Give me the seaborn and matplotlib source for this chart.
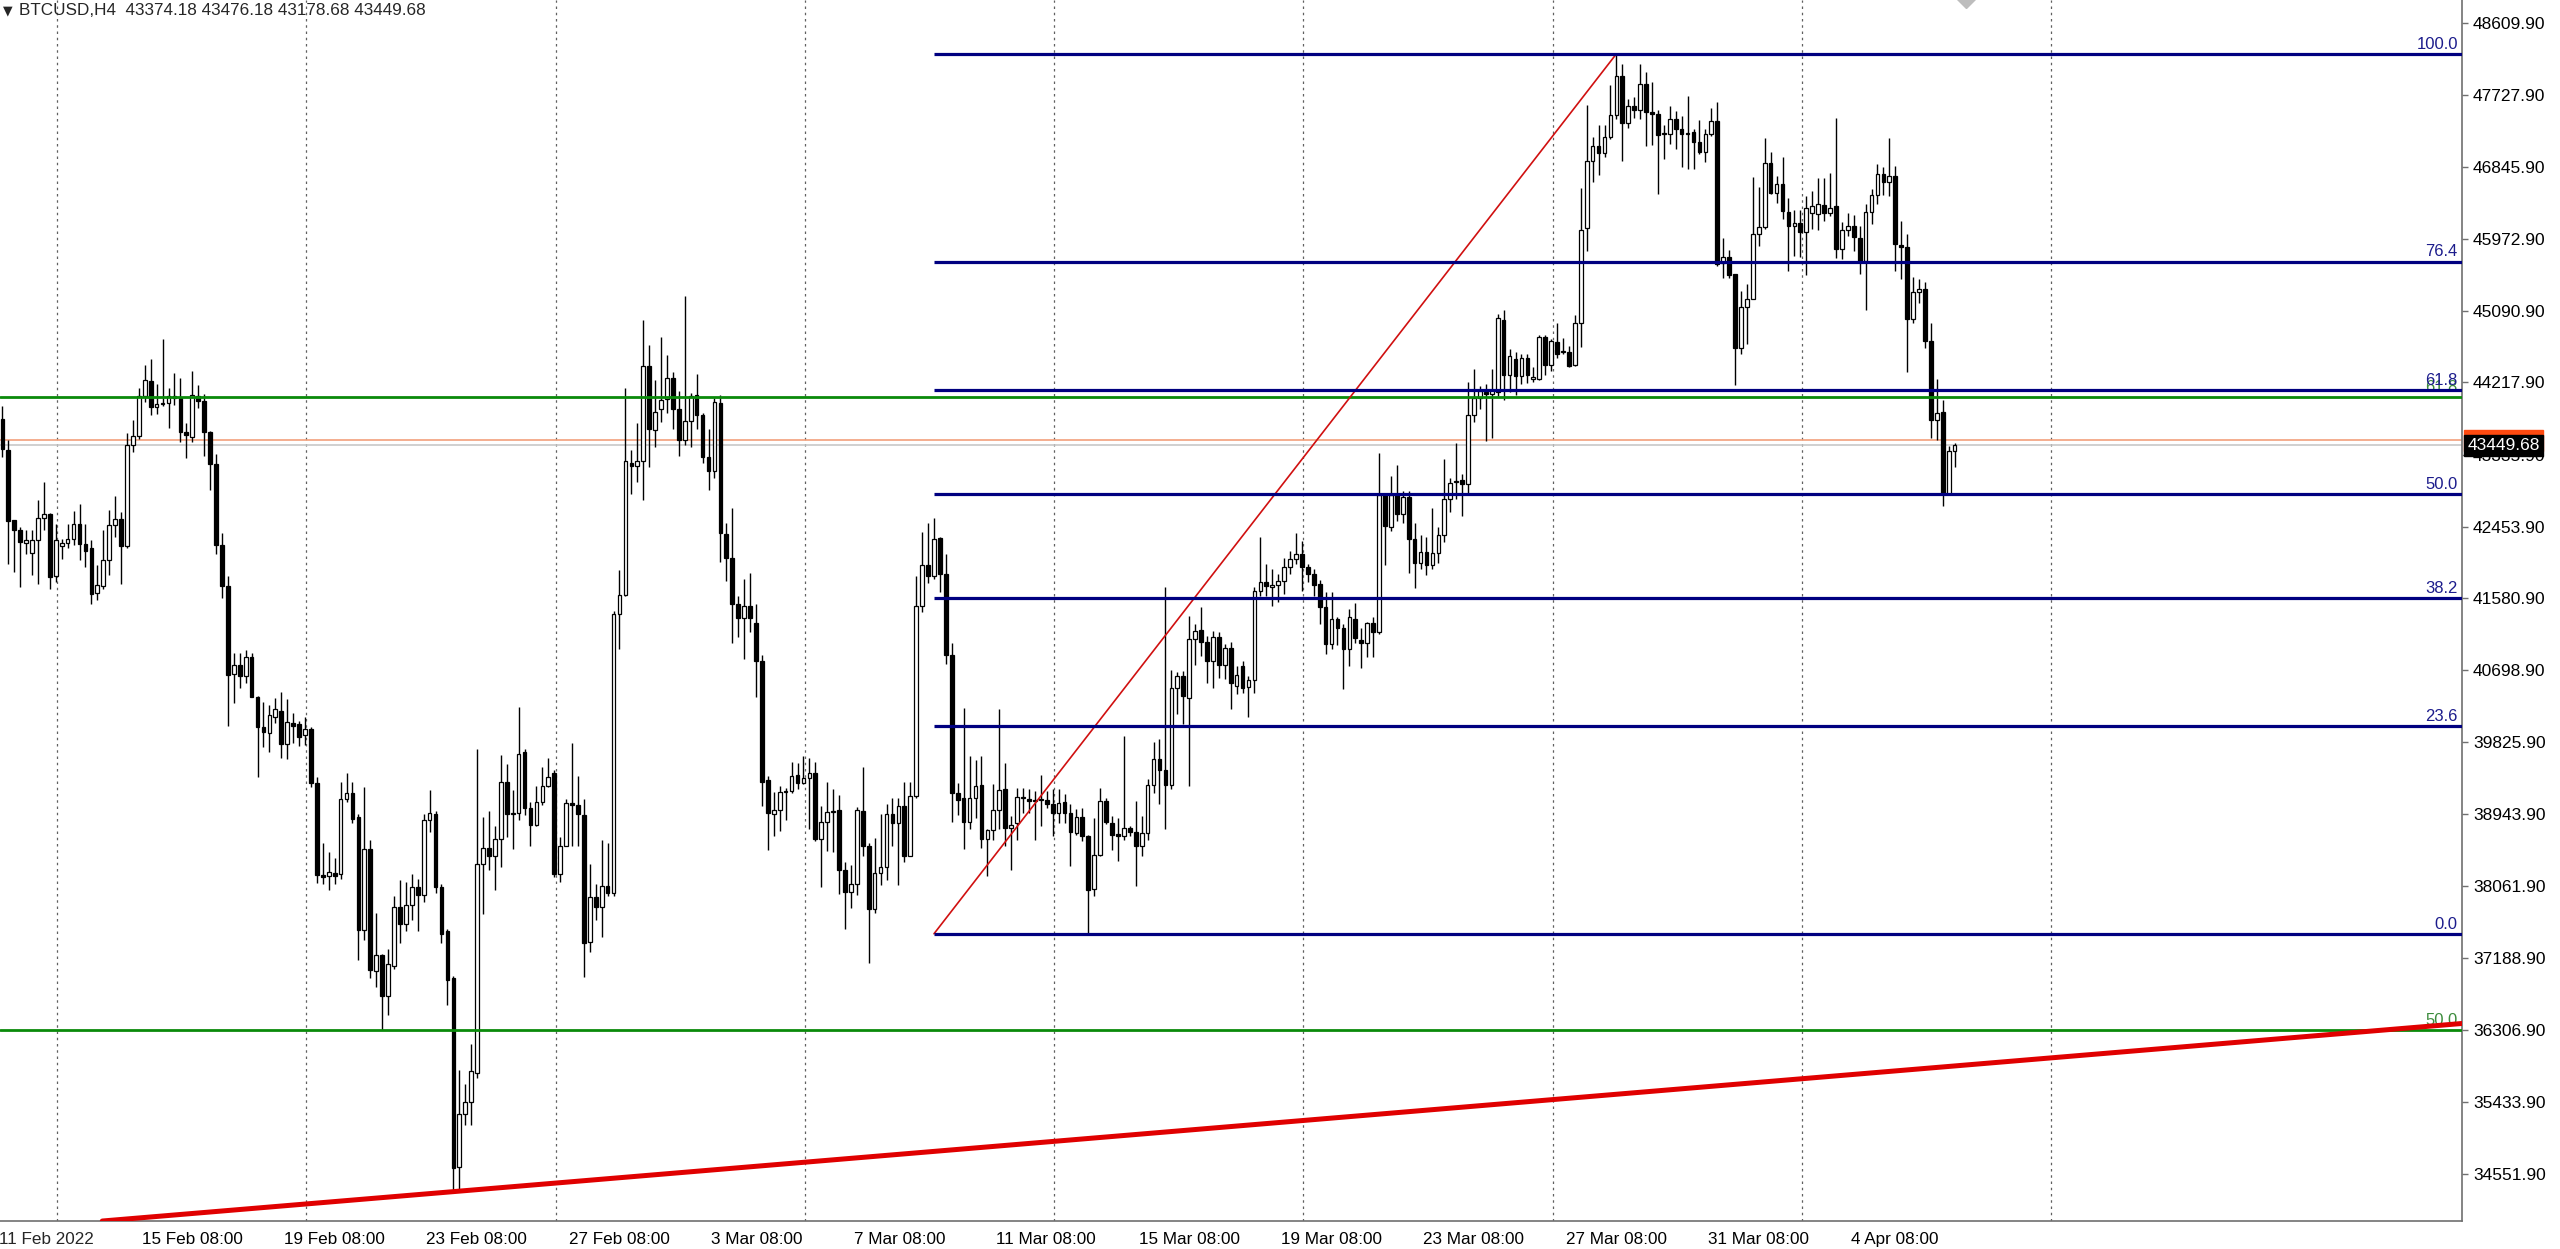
import numpy as np
import pandas as pd
import matplotlib
matplotlib.use("Agg")
import matplotlib.pyplot as plt
import matplotlib.transforms as mtransforms
import seaborn as sns

# BTCUSD H4 candles, 11 Feb 12:00 -> 7 Apr 2022
opens = [
    43776, 43389, 42534, 42420, 42262, 42140, 42290, 42567, 42608, 41851,
    42221, 42258, 42303, 42485, 42250, 42197, 41647, 41729, 42054, 42473,
    42555, 42217, 43450, 43560, 44052, 44235, 43918, 43950, 43967, 44048,
    44028, 43613, 43552, 44052, 43991, 43613, 43218, 42229, 41729, 40662,
    40764, 40630, 40858, 40378, 40003, 39939, 40134, 40207, 39800, 40060,
    40044, 39910, 39979, 39328, 38200, 38193, 38229, 38214, 39126, 39198,
    38911, 37525, 38516, 37022, 37224, 36721, 37094, 37813, 37597, 37834,
    38050, 37956, 38875, 38947, 38050, 37511, 36937, 34640, 35285, 35428,
    35788, 38337, 38530, 38430, 38645, 39342, 38947, 38961, 39700, 39018,
    38817, 39090, 39291, 39449, 38214, 38552, 39076, 39054, 38932, 37382,
    37927, 37812, 38071, 37978, 41387, 41617, 43239, 43196, 43253, 44416,
    43634, 43895, 44016, 44267, 43896, 43514, 43743, 44060, 43814, 43306,
    43132, 43961, 42367, 42067, 41505, 41341, 41483, 41276, 40812, 39366,
    38950, 38994, 39213, 39229, 39420, 39322, 39387, 39448, 38645, 38847,
    38972, 38994, 38263, 37990, 38088, 38983, 38558, 37783, 38230, 38302,
    38940, 38831, 39049, 38438, 39164, 41483, 41986, 41849, 42313, 41876,
    40894, 39202, 39147, 38847, 39147, 39295, 38643, 38749, 38993, 39246,
    38777, 38830, 39144, 39132, 39103, 39116, 39116, 39062, 38952, 39091,
    38961, 38716, 38912, 38683, 38026, 38439, 39104, 38830, 38704, 38675,
    38777, 38724, 38561, 38708, 39295, 39622, 39483, 39295, 40490, 40633,
    40368, 41082, 41196, 41041, 40817, 41103, 40764, 40968, 40511, 40756,
    40503, 40584, 41674, 41776, 41715, 41743, 41796, 41959, 42061, 42122,
    41959, 41878, 41759, 41476, 41023, 41332, 41219, 40962, 41332, 41075,
    41039, 41281, 41168, 42839, 42453, 42839, 42607, 42813, 42299, 42016,
    42145, 41990, 42135, 42350, 42788, 43000, 43029, 42978, 43816, 44022,
    44099, 44074, 44099, 44984, 44305, 44501, 44295, 44521, 44264, 44254,
    44768, 44434, 44717, 44588, 44588, 44434, 44948, 46105, 46918, 47109,
    47021, 47211, 47484, 47957, 47392, 47597, 47550, 47864, 47517, 47492,
    47248, 47248, 47435, 47313, 47248, 47280, 47158, 47027, 47252, 47415,
    45673, 45755, 45538, 44641, 45142, 45240, 46027, 46121, 46896, 46529,
    46639, 46301, 46130, 46170, 46056, 46293, 46272, 46383, 46293, 46374,
    45852, 46081, 46130, 45987, 45701, 46301, 46505, 46762, 46660, 46742,
    45893, 45877, 44996, 45322, 45355, 44722, 43763, 43853, 42857, 43374.18,
]
highs = [
    43926, 43511, 42540, 42453, 42412, 42420, 42779, 43002, 42620, 42494,
    42311, 42485, 42648, 42738, 42485, 42290, 41985, 42412, 42665, 42827,
    42636, 43600, 43755, 44154, 44427, 44508, 44203, 44752, 44154, 44333,
    44276, 43723, 44357, 44183, 44081, 43620, 43340, 42380, 41851, 40907,
    40907, 40948, 40907, 40390, 40317, 40276, 40357, 40439, 40345, 40175,
    40085, 40134, 40010, 39400, 38588, 38480, 38408, 39342, 39449, 39342,
    38947, 39270, 38624, 37741, 37230, 37296, 37942, 38136, 38114, 38208,
    38157, 38947, 39234, 38983, 38086, 37547, 36966, 35824, 35644, 36141,
    39736, 38911, 38983, 38803, 39664, 39557, 39234, 40253, 39736, 39090,
    39291, 39521, 39628, 39485, 38660, 39126, 39808, 39413, 39126, 38337,
    38086, 38624, 38588, 41423, 41925, 44151, 43397, 43720, 44976, 44675,
    44250, 44769, 44551, 44343, 44114, 45271, 44087, 44321, 43841, 43650,
    44032, 44070, 42504, 42684, 41603, 41822, 41887, 41505, 40883, 39409,
    39213, 39284, 39267, 39584, 39573, 39649, 39627, 39584, 39038, 39338,
    39256, 39175, 38356, 38328, 39027, 39518, 38590, 38656, 38940, 39065,
    39147, 39136, 39338, 39338, 41849, 42395, 42504, 42558, 42324, 42122,
    41030, 39322, 40239, 39649, 39611, 39649, 38760, 39307, 40233, 39565,
    38920, 39267, 39267, 39255, 39226, 39418, 39226, 39247, 39247, 39185,
    39063, 39001, 39022, 38690, 38899, 39267, 39144, 38920, 38899, 39899,
    38797, 39104, 38920, 39368, 39826, 39858, 41714, 40707, 40682, 40694,
    41368, 41266, 41470, 41123, 41184, 41164, 41021, 41050, 40756, 40817,
    40633, 41714, 42327, 42000, 41939, 41878, 42069, 42163, 42380, 42286,
    42000, 41939, 41810, 41656, 41656, 41347, 41270, 41450, 41527, 41219,
    41296, 41347, 43354, 42865, 43071, 43214, 42890, 42890, 42505, 42350,
    42325, 42685, 42453, 43286, 43045, 43472, 43096, 44228, 44382, 44176,
    44202, 44382, 45051, 45102, 44624, 44588, 44562, 44562, 44408, 44794,
    44794, 44742, 44948, 44758, 44665, 45036, 46594, 47607, 47211, 47366,
    47366, 47854, 48231, 48111, 47674, 47700, 48109, 48015, 47892, 47550,
    47362, 47599, 47537, 47468, 47713, 47313, 47427, 47313, 47566, 47648,
    45987, 45836, 45538, 45334, 45416, 46721, 46599, 47199, 47027, 46742,
    46966, 46476, 46326, 46326, 46497, 46558, 46709, 46709, 46774, 47442,
    46179, 46293, 46260, 46130, 46395, 46578, 46885, 46844, 47199, 46864,
    46191, 46028, 45510, 45485, 45444, 44947, 44261, 44000, 43443, 43476.18,
]
lows = [
    43308, 42005, 41904, 41721, 42127, 41863, 41761, 42412, 41700, 41782,
    42066, 42189, 42229, 42046, 41965, 41509, 41566, 41700, 41863, 42331,
    41761, 42200, 43369, 43531, 43979, 43816, 43837, 43926, 43666, 43938,
    43491, 43300, 43491, 43910, 43316, 42909, 42127, 41590, 40020, 40297,
    40480, 40541, 40370, 39401, 39767, 39707, 40052, 39625, 39613, 39808,
    39776, 39788, 39280, 38100, 38086, 38013, 38086, 38157, 39090, 38839,
    37166, 37403, 36937, 36829, 36306, 36491, 37050, 37367, 37511, 37654,
    37511, 37870, 38732, 37978, 37367, 36614, 34350, 34348, 35143, 35143,
    35716, 37727, 38265, 38014, 38301, 38660, 38516, 38875, 38932, 38552,
    38803, 39054, 39270, 38172, 38121, 38552, 38552, 38552, 36951, 37260,
    37654, 37439, 37942, 37942, 40956, 41603, 42859, 43002, 42787, 43182,
    43432, 43732, 43841, 43650, 43323, 43459, 43432, 43650, 43230, 42902,
    43050, 42029, 41794, 41030, 41112, 40839, 41167, 40375, 39038, 38503,
    38683, 38738, 38874, 39202, 39256, 39311, 38765, 38612, 38056, 38492,
    38481, 37974, 37537, 37794, 37958, 38438, 37129, 37739, 38083, 38138,
    38558, 38083, 38356, 38438, 39147, 41412, 41767, 41811, 41658, 40774,
    38847, 38929, 38520, 38765, 38902, 38536, 38186, 38626, 38765, 38553,
    38267, 38626, 38961, 38961, 38634, 38797, 39022, 38675, 38838, 38838,
    38308, 38695, 38614, 37483, 37940, 38430, 38818, 38512, 38369, 38634,
    38675, 38063, 38430, 38634, 39205, 39063, 38765, 39246, 40164, 40042,
    39287, 40764, 40878, 40543, 40490, 40613, 40592, 40225, 40409, 40429,
    40136, 40429, 41613, 41613, 41490, 41531, 41633, 41878, 42000, 41674,
    41776, 41613, 41270, 40900, 40962, 41013, 40473, 40756, 41039, 40730,
    40859, 40869, 41142, 41990, 42402, 42530, 42505, 41887, 41707, 41939,
    41862, 41939, 42016, 42273, 42633, 42788, 42582, 42865, 43739, 43894,
    43508, 43534, 44048, 43997, 44099, 44058, 44202, 44212, 44228, 44243,
    44305, 44357, 44521, 44562, 44408, 44418, 44655, 45823, 46671, 46748,
    46969, 47196, 47432, 46918, 47330, 47443, 47435, 47109, 47117, 46517,
    46946, 47129, 47068, 46844, 46823, 46823, 47007, 46905, 47223, 45640,
    45497, 45497, 44192, 44559, 44682, 45232, 45885, 46097, 46517, 46407,
    46211, 45579, 45763, 45755, 45526, 46089, 46081, 46191, 46252, 45742,
    45722, 46007, 45824, 45538, 45102, 46150, 46395, 46505, 46497, 45579,
    45477, 44342, 44947, 45192, 44641, 43539, 43519, 42703, 42850, 43178.68,
]
closes = [
    43409, 42526, 42420, 42270, 42290, 42290, 42567, 42616, 41843, 42290,
    42258, 42303, 42485, 42250, 42160, 41639, 41741, 42054, 42473, 42555,
    42217, 43450, 43560, 44052, 44243, 43918, 43950, 43959, 44048, 44028,
    43613, 43572, 44060, 43991, 43613, 43218, 42229, 41729, 40642, 40764,
    40630, 40866, 40378, 40003, 39951, 40154, 40223, 39800, 40073, 40020,
    39881, 39979, 39328, 38200, 38172, 38243, 38193, 39126, 39198, 38889,
    37525, 38516, 37044, 37224, 36721, 37116, 37813, 37597, 37834, 38050,
    37956, 38875, 38961, 38050, 37475, 36922, 34626, 35285, 35428, 35803,
    38337, 38530, 38430, 38645, 39342, 38947, 38961, 39679, 39018, 38817,
    39090, 39291, 39392, 38214, 38552, 39076, 39054, 38947, 37368, 37927,
    37812, 38071, 37978, 41387, 41617, 43253, 43196, 43253, 44416, 43648,
    43852, 44004, 44267, 43896, 43514, 43743, 44049, 43814, 43306, 43132,
    43978, 42378, 42067, 41505, 41341, 41483, 41341, 40812, 39338, 38956,
    38994, 39213, 39213, 39409, 39322, 39387, 39442, 38645, 38847, 38972,
    38972, 38263, 37990, 38088, 38994, 38558, 37783, 38230, 38302, 38940,
    38831, 39049, 38438, 39164, 41483, 41986, 41849, 42302, 41876, 40894,
    39202, 39120, 38847, 39147, 39284, 38643, 38749, 38993, 39238, 38777,
    38806, 39157, 39144, 39103, 39116, 39116, 39062, 38952, 39083, 38961,
    38724, 38912, 38683, 38022, 38447, 39104, 38847, 38695, 38675, 38777,
    38724, 38561, 38708, 39295, 39622, 39483, 39295, 40490, 40633, 40388,
    41082, 41184, 41041, 40817, 41103, 40764, 40968, 40544, 40642, 40490,
    40584, 41674, 41784, 41727, 41743, 41796, 41959, 42061, 42122, 41959,
    41878, 41743, 41476, 41023, 41332, 41219, 40962, 41347, 41090, 41039,
    41281, 41168, 42839, 42463, 42839, 42607, 42813, 42299, 42016, 42145,
    41990, 42130, 42350, 42788, 42994, 43019, 42978, 43816, 44022, 44110,
    44074, 44125, 45000, 44305, 44537, 44295, 44511, 44305, 44264, 44768,
    44434, 44727, 44562, 44588, 44418, 44948, 46080, 46918, 47109, 47021,
    47211, 47484, 47957, 47392, 47597, 47546, 47864, 47525, 47492, 47240,
    47248, 47435, 47313, 47248, 47265, 47158, 47027, 47252, 47415, 45661,
    45755, 45526, 44641, 45142, 45240, 46027, 46121, 46896, 46529, 46639,
    46313, 46130, 46170, 46056, 46354, 46374, 46395, 46293, 46354, 45852,
    46081, 46130, 46000, 45701, 46301, 46505, 46762, 46660, 46742, 45905,
    45877, 44996, 45322, 45355, 44722, 43763, 43845, 42857, 43376, 43449.68,
]

date_labels = ["15 Feb 08:00", "19 Feb 08:00", "23 Feb 08:00", "27 Feb 08:00",
               "3 Mar 08:00", "7 Mar 08:00", "11 Mar 08:00", "15 Mar 08:00",
               "19 Mar 08:00", "23 Mar 08:00", "27 Mar 08:00", "31 Mar 08:00",
               "4 Apr 08:00"]
price_ticks = [48609.90, 47727.90, 46845.90, 45972.90, 45090.90, 44217.90,
               43335.90, 42453.90, 41580.90, 40698.90, 39825.90, 38943.90,
               38061.90, 37188.90, 36306.90, 35433.90, 34551.90]

# objects on the chart
fib_low, fib_high = 37483, 48231
fib_levels = [0.0, 23.6, 38.2, 50.0, 61.8, 76.4, 100.0]
fib_start, fib_end = 157, 272
green_levels = [44043, 36307]
green_labels = ["61.8", "50.0"]
trend_a = (76, 34333)
trend_b = (414, 36384)
bid, ask = 43449.68, 43512.0

df = pd.DataFrame({"open": opens, "high": highs, "low": lows, "close": closes})
df["i"] = np.arange(len(df))
up = df["close"] >= df["open"]

sns.set_style("white")
plt.rcParams["font.family"] = ["Liberation Sans", "DejaVu Sans"]

fig = plt.figure(figsize=(25.6, 12.49), dpi=100)
ax = fig.add_axes([0, 0.0224, 0.9617, 0.9776])
ax.set_xlim(-0.4, 414.5)
ax.set_ylim(33974, 48889)

# vertical dotted grid
for gx in np.arange(9.24, 350, 42):
    ax.axvline(gx, color="#606060", lw=0.9, ls=(0, (2, 3)), zorder=1)

# bid / ask lines
ax.axhline(ask, color="#F2A07B", lw=1.2, zorder=1.5)
ax.axhline(bid, color="#C8C8C8", lw=1.2, zorder=1.5)

# candles
ax.vlines(df["i"], df["low"], df["high"], color="black", lw=1.0, zorder=3)
body_h = (df["close"] - df["open"]).abs().clip(lower=14)
body_b = df[["open", "close"]].min(axis=1)
ax.bar(df["i"][up], body_h[up], bottom=body_b[up], width=0.62,
       facecolor="white", edgecolor="black", lw=0.9, zorder=4)
ax.bar(df["i"][~up], body_h[~up], bottom=body_b[~up], width=0.62,
       facecolor="black", edgecolor="black", lw=0.9, zorder=4)

# green levels
for lvl, lab in zip(green_levels, green_labels):
    ax.axhline(lvl, color="#0A8A0A", lw=2.0, zorder=5)
    ax.text(413.8, lvl + 25, lab, color="#3C8C3C", fontsize=12,
            ha="right", va="bottom", zorder=5)

# fibonacci retracement
ax.plot([fib_start, fib_end], [fib_low, fib_high], color="#D01010", lw=1.2, zorder=6)
for lv in fib_levels:
    p = fib_low + (fib_high - fib_low) * lv / 100
    ax.hlines(p, fib_start, 414.5, color="#000080", lw=2.3, zorder=6)
    ax.text(413.8, p + 25, f"{lv:.1f}", color="#1C1C8C", fontsize=12,
            ha="right", va="bottom", zorder=6,
            bbox=dict(boxstyle="square,pad=0.05", fc="none", ec="none"))

# long trend line
ax.axline(trend_a, trend_b, color="#E00000", lw=3.6, zorder=7)

# marker at the top edge
ax.plot([331], [48925], marker="D", ms=11, color="#BDBDBD", zorder=7, clip_on=True)

# axes styling
for s in ["left", "top"]:
    ax.spines[s].set_visible(False)
for s in ["right", "bottom"]:
    ax.spines[s].set_color("#707070")
    ax.spines[s].set_linewidth(1.2)

ax.yaxis.tick_right()
ax.set_yticks(price_ticks)
ax.set_yticklabels([f"{v:.2f}" for v in price_ticks])
ax.tick_params(axis="y", direction="out", length=4, width=1, color="#707070",
               pad=4, labelsize=12.5, labelcolor="black")

xt = [23 + 24 * k for k in range(len(date_labels))]
ax.set_xticks(xt)
ax.set_xticklabels(date_labels)
ax.tick_params(axis="x", direction="out", length=5, width=1, color="#707070",
               pad=3, labelsize=12.3, labelcolor="black")
shift = mtransforms.ScaledTranslation(2 / 72, 0, fig.dpi_scale_trans)
for lbl in ax.get_xticklabels():
    lbl.set_horizontalalignment("left")
    lbl.set_transform(lbl.get_transform() + shift)
ax.annotate("11 Feb 2022", xy=(0, 0), xycoords="axes fraction",
            xytext=(-1, -8), textcoords="offset points",
            ha="left", va="top", fontsize=12.3, annotation_clip=False)

# price labels on the right axis
ytrans = mtransforms.blended_transform_factory(ax.transAxes, ax.transData)
ax.annotate("43512.00", xy=(1.0, ask), xycoords=ytrans, xytext=(4, 0),
            textcoords="offset points", ha="left", va="center", fontsize=12.5,
            color="#FF4A10", annotation_clip=False, zorder=20,
            bbox=dict(boxstyle="square,pad=0.18", fc="#FF4A10", ec="#FF4A10"))
ax.annotate(f"{bid:.2f}", xy=(1.0, bid), xycoords=ytrans, xytext=(4, 0),
            textcoords="offset points", ha="left", va="center", fontsize=12.5,
            color="white", annotation_clip=False, zorder=21,
            bbox=dict(boxstyle="square,pad=0.18", fc="black", ec="black"))

# header
fig.text(0.0012, 0.9965, "\u25BC", fontsize=9, ha="left", va="top",
         family=["DejaVu Sans"])
fig.text(0.0075, 0.9975, "BTCUSD,H4  43374.18 43476.18 43178.68 43449.68",
         fontsize=12.3, ha="left", va="top")

fig.savefig("out.png", dpi=100, facecolor="white")
